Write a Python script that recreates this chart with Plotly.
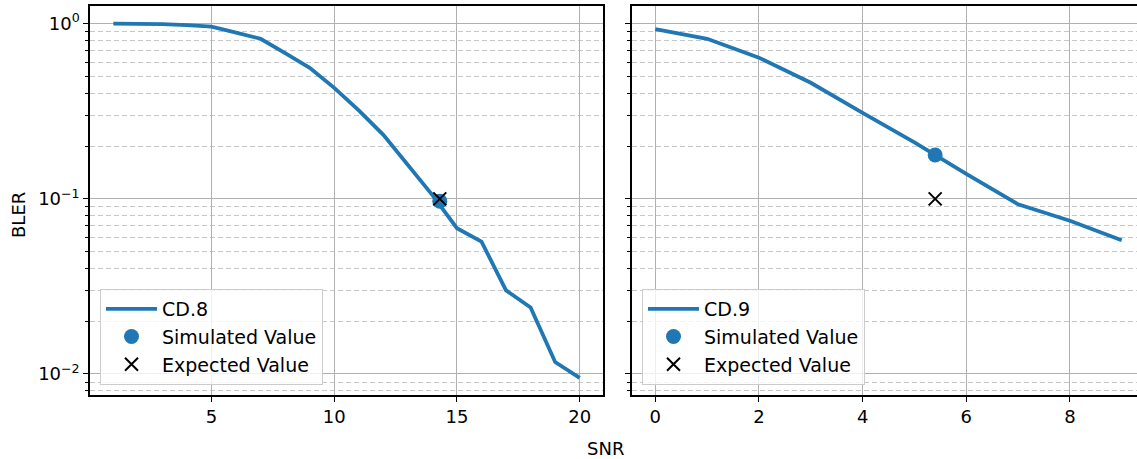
import plotly.graph_objects as go

# ---- data ----
snr_cd8 = list(range(1, 21))
bler_cd8 = [1.0, 0.999, 0.995, 0.982, 0.962, 0.89, 0.82, 0.68, 0.56, 0.43,
            0.32, 0.232, 0.155, 0.105, 0.068, 0.057, 0.030, 0.024, 0.0117, 0.0095]
sim_cd8_x = [14.3]
sim_cd8_y = [0.097]
exp_cd8_x = [14.3]
exp_cd8_y = [0.1]

snr_cd9 = list(range(0, 10))
bler_cd9 = [0.93, 0.82, 0.64, 0.46, 0.31, 0.21, 0.139, 0.093, 0.075, 0.058]
sim_cd9_x = [5.4]
sim_cd9_y = [0.178]
exp_cd9_x = [5.4]
exp_cd9_y = [0.1]

major_y = [0.01, 0.1, 1]
major_y_text = ["10<sup>−2</sup>", "10<sup>−1</sup>", "10<sup>0</sup>"]
minor_y = [m * d for d in (0.001, 0.01, 0.1) for m in range(2, 10)]

BLUE = "#1f77b4"
FONT = "DejaVu Sans"
W, H = 1137, 459

fig = go.Figure()

def add_panel(xs, ys, name, sx, sy, ex, ey, xa, ya, legend):
    fig.add_trace(go.Scatter(x=xs, y=ys, mode="lines", name=name,
                             line=dict(color=BLUE, width=3.8),
                             xaxis=xa, yaxis=ya, legend=legend))
    fig.add_trace(go.Scatter(x=sx, y=sy, mode="markers", name="Simulated Value",
                             marker=dict(color=BLUE, size=15, symbol="circle"),
                             xaxis=xa, yaxis=ya, legend=legend))
    fig.add_trace(go.Scatter(x=ex, y=ey, mode="markers", name="Expected Value",
                             marker=dict(color="black", size=13, symbol="x-thin",
                                         line=dict(color="black", width=2)),
                             xaxis=xa, yaxis=ya, legend=legend))

add_panel(snr_cd8, bler_cd8, "CD.8", sim_cd8_x, sim_cd8_y, exp_cd8_x, exp_cd8_y, "x", "y", "legend")
add_panel(snr_cd9, bler_cd9, "CD.9", sim_cd9_x, sim_cd9_y, exp_cd9_x, exp_cd9_y, "x2", "y2", "legend2")

def px_x(p):
    return p / W

def px_y(p):
    return 1 - p / H

xcommon = dict(showline=True, linecolor="black", linewidth=1.5, mirror=True,
               showgrid=True, gridcolor="#b0b0b0", gridwidth=1,
               ticks="outside", ticklen=5, tickcolor="black",
               tickfont=dict(family=FONT, size=18, color="black"),
               zeroline=False, automargin=False)

ycommon = dict(type="log", range=[-2.12, 0.101],
               showline=True, linecolor="black", linewidth=1.5,
               showgrid=True, gridcolor="#b0b0b0", gridwidth=1,
               ticks="outside", ticklen=5, tickcolor="black",
               tickvals=major_y, ticktext=major_y_text,
               tickfont=dict(family=FONT, size=18, color="black"),
               minor=dict(tickvals=minor_y, showgrid=True, griddash="5px,3px",
                          gridcolor="#c8c8c8", gridwidth=1, ticks="outside",
                          ticklen=3, tickcolor="black"),
               zeroline=False, automargin=False,
               domain=[px_y(395), px_y(6)])

legcommon = dict(bgcolor="rgba(255,255,255,0.8)", bordercolor="#cccccc", borderwidth=1,
                 font=dict(family=FONT, size=19, color="black"),
                 xanchor="left", yanchor="bottom", tracegroupgap=0, itemwidth=51)

fig.update_layout(
    width=W, height=H,
    margin=dict(l=0, r=0, t=0, b=0),
    paper_bgcolor="white", plot_bgcolor="white",
    font=dict(family=FONT, size=18, color="black"),
    xaxis=dict(xcommon, domain=[px_x(90), px_x(603)], range=[0.05, 20.95],
               tickvals=[5, 10, 15, 20]),
    # right panel is as wide as the left one, but cut off by the image edge
    xaxis2=dict(xcommon, domain=[px_x(632), 1.0], range=[-0.45, 9.295],
                tickvals=[0, 2, 4, 6, 8]),
    yaxis=dict(ycommon, anchor="x", mirror=True),
    yaxis2=dict(ycommon, anchor="x2", matches="y", showticklabels=False, mirror=False),
    legend=dict(legcommon, x=px_x(100), y=px_y(385)),
    legend2=dict(legcommon, x=px_x(642), y=px_y(385)),
    showlegend=True,
    annotations=[
        dict(text="BLER", x=px_x(19), y=px_y(215), xref="paper", yref="paper",
             xanchor="center", yanchor="middle",
             showarrow=False, textangle=-90, font=dict(family=FONT, size=18, color="black")),
        dict(text="SNR", x=px_x(605), y=px_y(448), xref="paper", yref="paper",
             xanchor="center", yanchor="middle",
             showarrow=False, font=dict(family=FONT, size=18, color="black")),
    ],
)

fig.write_html("out.html")
